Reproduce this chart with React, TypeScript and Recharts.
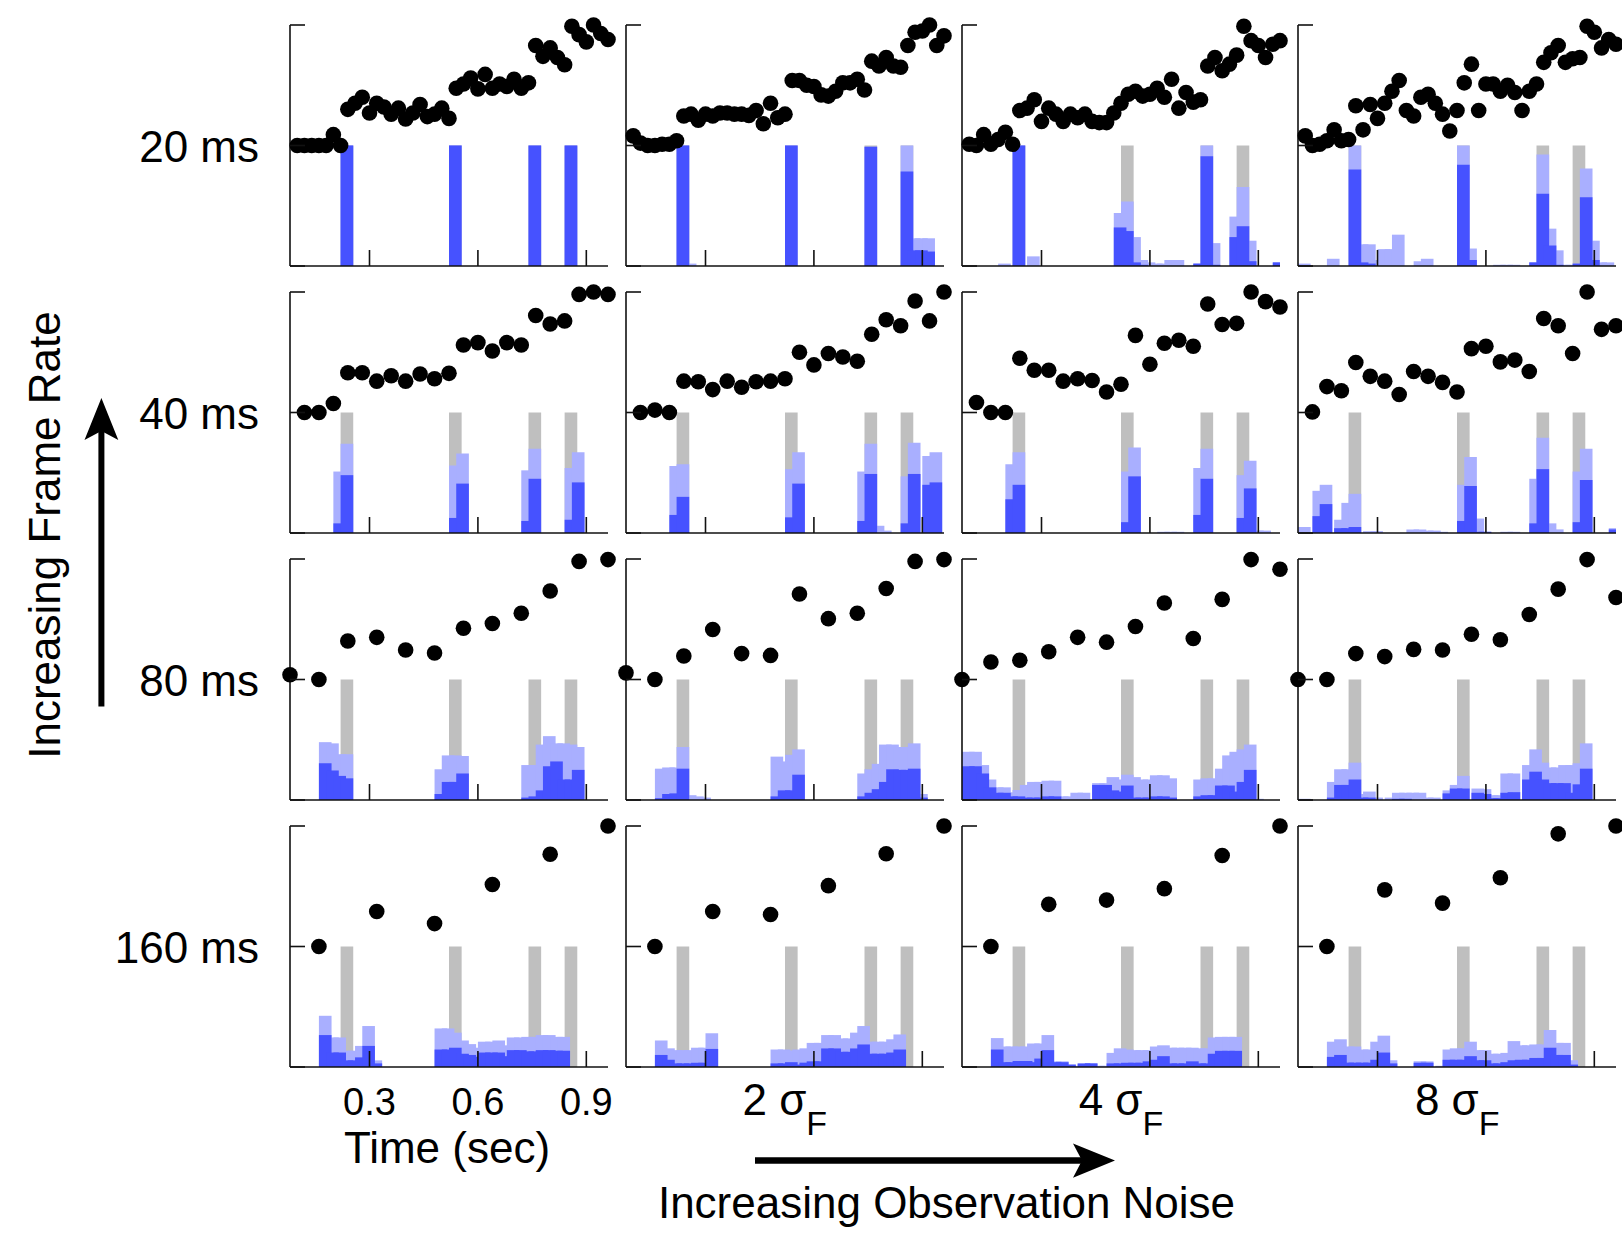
import React from 'react';
import { ComposedChart, XAxis, YAxis, Scatter, ReferenceArea } from 'recharts';

const FONT = '"Liberation Sans", Arial, Helvetica, sans-serif';
const DARK = '#4652ff';
const LIGHT = '#a9afff';
const GRAY = '#bfbfbf';
const INK = '#111';

// frame times (sec) for each frame rate
const t20 = [0.10, 0.12, 0.14, 0.16, 0.18, 0.20, 0.22, 0.24, 0.26, 0.28, 0.30, 0.32, 0.34, 0.36, 0.38, 0.40, 0.42, 0.44, 0.46, 0.48, 0.50, 0.52, 0.54, 0.56, 0.58, 0.60, 0.62, 0.64, 0.66, 0.68, 0.70, 0.72, 0.74, 0.76, 0.78, 0.80, 0.82, 0.84, 0.86, 0.88, 0.90, 0.92, 0.94, 0.96];
const t40 = [0.12, 0.16, 0.20, 0.24, 0.28, 0.32, 0.36, 0.40, 0.44, 0.48, 0.52, 0.56, 0.60, 0.64, 0.68, 0.72, 0.76, 0.80, 0.84, 0.88, 0.92, 0.96];
const t80 = [0.08, 0.16, 0.24, 0.32, 0.40, 0.48, 0.56, 0.64, 0.72, 0.80, 0.88, 0.96];
const t160 = [0.16, 0.32, 0.48, 0.64, 0.80, 0.96];

// observations (0 = middle tick, 1 = top of panel)
const obs20_1 = [0, 0, 0, 0, 0, 0.09, 0, 0.30, 0.35, 0.40, 0.27, 0.35, 0.32, 0.26, 0.31, 0.22, 0.27, 0.34, 0.24, 0.26, 0.31, 0.225, 0.475, 0.51, 0.56, 0.47, 0.59, 0.475, 0.51, 0.49, 0.55, 0.475, 0.52, 0.83, 0.74, 0.81, 0.73, 0.67, 0.99, 0.92, 0.86, 1.0, 0.93, 0.88];
const obs20_2 = [0.08, 0.02, 0, 0, 0.01, 0.01, 0.04, 0.245, 0.26, 0.21, 0.26, 0.245, 0.27, 0.27, 0.26, 0.26, 0.25, 0.29, 0.18, 0.35, 0.23, 0.26, 0.54, 0.54, 0.50, 0.49, 0.42, 0.41, 0.45, 0.52, 0.52, 0.55, 0.46, 0.70, 0.66, 0.73, 0.66, 0.65, 0.83, 0.94, 0.95, 1.0, 0.83, 0.91];
const obs20_4 = [0.01, 0, 0.09, 0.01, 0.05, 0.11, 0.01, 0.29, 0.31, 0.38, 0.20, 0.31, 0.26, 0.20, 0.26, 0.23, 0.26, 0.20, 0.19, 0.19, 0.27, 0.35, 0.425, 0.45, 0.41, 0.425, 0.475, 0.40, 0.55, 0.31, 0.44, 0.36, 0.38, 0.66, 0.73, 0.62, 0.675, 0.75, 0.99, 0.87, 0.83, 0.73, 0.84, 0.87];
const obs20_8 = [0.08, 0, 0.01, 0.04, 0.13, 0.04, 0.05, 0.33, 0.13, 0.34, 0.225, 0.35, 0.45, 0.54, 0.29, 0.245, 0.40, 0.425, 0.35, 0.26, 0.12, 0.29, 0.52, 0.675, 0.29, 0.51, 0.51, 0.45, 0.50, 0.44, 0.29, 0.45, 0.51, 0.69, 0.77, 0.83, 0.69, 0.72, 0.73, 0.99, 0.94, 0.81, 0.88, 0.84];

const obs40_1 = [0, 0, 0.075, 0.33, 0.33, 0.26, 0.305, 0.26, 0.32, 0.28, 0.325, 0.56, 0.58, 0.51, 0.58, 0.56, 0.805, 0.735, 0.76, 0.98, 1.0, 0.98];
const obs40_2 = [0, 0.02, 0, 0.26, 0.255, 0.19, 0.26, 0.21, 0.255, 0.26, 0.28, 0.50, 0.395, 0.49, 0.46, 0.425, 0.65, 0.77, 0.72, 0.925, 0.76, 1.0];
const obs40_4 = [0.083, 0, 0, 0.45, 0.35, 0.35, 0.26, 0.28, 0.265, 0.17, 0.235, 0.64, 0.40, 0.575, 0.60, 0.55, 0.90, 0.73, 0.74, 1.0, 0.92, 0.875];
const obs40_8 = [0.005, 0.215, 0.18, 0.415, 0.30, 0.26, 0.15, 0.34, 0.30, 0.25, 0.17, 0.53, 0.55, 0.42, 0.435, 0.34, 0.78, 0.72, 0.49, 1.0, 0.69, 0.72];

const obs80_1 = [0.04, 0, 0.32, 0.35, 0.245, 0.22, 0.425, 0.465, 0.55, 0.735, 0.98, 0.995];
const obs80_2 = [0.055, 0, 0.195, 0.415, 0.215, 0.20, 0.71, 0.505, 0.55, 0.755, 0.98, 0.995];
const obs80_4 = [0, 0.145, 0.16, 0.23, 0.35, 0.31, 0.44, 0.635, 0.34, 0.665, 0.995, 0.915];
const obs80_8 = [0, 0, 0.215, 0.19, 0.25, 0.245, 0.375, 0.33, 0.54, 0.75, 0.995, 0.68];

const obs160_1 = [0, 0.29, 0.19, 0.515, 0.765, 1.0];
const obs160_2 = [0, 0.29, 0.265, 0.505, 0.77, 1.0];
const obs160_4 = [0, 0.35, 0.385, 0.48, 0.755, 1.0];
const obs160_8 = [0, 0.47, 0.36, 0.57, 0.935, 1.0];

// change-point histograms: [bin start (sec), light, dark], 1 = middle tick
type Bin = [number, number, number];
const hist20_1: Bin[] = [[0.22, 1, 1], [0.52, 1, 1], [0.74, 1, 1], [0.84, 1, 1]];
const hist20_2: Bin[] = [[0.22, 1, 1], [0.24, 0.02, 0], [0.52, 1, 1], [0.74, 0.99, 0.99], [0.84, 1, 0.785], [0.86, 0.23, 0.13], [0.88, 0.23, 0.13], [0.90, 0.23, 0.12]];
const hist20_4: Bin[] = [[0.18, 0.02, 0], [0.22, 1, 1], [0.26, 0.08, 0], [0.50, 0.44, 0.32], [0.52, 0.535, 0.29], [0.54, 0.24, 0.03], [0.56, 0.05, 0.01], [0.58, 0.03, 0], [0.60, 0.02, 0], [0.62, 0.02, 0], [0.64, 0.05, 0], [0.66, 0.05, 0], [0.72, 0.02, 0.02], [0.74, 1, 0.91], [0.76, 0.19, 0.01], [0.82, 0.41, 0.24], [0.84, 0.655, 0.33], [0.86, 0.21, 0.04], [0.94, 0.03, 0.03]];
const hist20_8: Bin[] = [[0.08, 0.02, 0], [0.16, 0.06, 0], [0.22, 1, 0.8], [0.24, 0.18, 0.03], [0.26, 0.18, 0.02], [0.28, 0.05, 0], [0.30, 0.14, 0], [0.32, 0.14, 0], [0.34, 0.26, 0], [0.40, 0.04, 0], [0.42, 0.06, 0], [0.52, 1, 0.84], [0.54, 0.145, 0.05], [0.62, 0.01, 0], [0.64, 0.01, 0], [0.66, 0.01, 0], [0.72, 0.03, 0.03], [0.74, 0.925, 0.6], [0.76, 0.31, 0.17], [0.78, 0.13, 0.01], [0.80, 0.01, 0], [0.82, 0.01, 0], [0.84, 0.02, 0.02], [0.86, 0.81, 0.57], [0.88, 0.21, 0.05], [0.90, 0.03, 0], [0.92, 0.03, 0]];

const hist40_1: Bin[] = [[0.20, 0.51, 0.08], [0.22, 0.74, 0.48], [0.52, 0.56, 0.125], [0.54, 0.66, 0.41], [0.72, 0.52, 0.10], [0.74, 0.70, 0.45], [0.84, 0.54, 0.11], [0.86, 0.67, 0.42]];
const hist40_2: Bin[] = [[0.20, 0.555, 0.15], [0.22, 0.57, 0.30], [0.52, 0.53, 0.13], [0.54, 0.67, 0.41], [0.72, 0.51, 0.10], [0.74, 0.74, 0.49], [0.76, 0.06, 0], [0.78, 0.02, 0], [0.84, 0.47, 0.08], [0.86, 0.75, 0.49], [0.90, 0.64, 0.40], [0.92, 0.67, 0.42]];
const hist40_4: Bin[] = [[0.20, 0.57, 0.28], [0.22, 0.67, 0.40], [0.52, 0.51, 0.09], [0.54, 0.71, 0.47], [0.62, 0.01, 0], [0.64, 0.01, 0], [0.66, 0.01, 0], [0.72, 0.54, 0.15], [0.74, 0.70, 0.45], [0.84, 0.48, 0.125], [0.86, 0.60, 0.37], [0.88, 0.02, 0], [0.90, 0.02, 0]];
const hist40_8: Bin[] = [[0.08, 0.05, 0], [0.12, 0.35, 0.14], [0.14, 0.40, 0.24], [0.18, 0.11, 0.04], [0.20, 0.25, 0.04], [0.22, 0.325, 0.05], [0.26, 0.015, 0], [0.28, 0.015, 0], [0.38, 0.03, 0], [0.40, 0.03, 0], [0.42, 0.02, 0], [0.44, 0.02, 0], [0.46, 0.01, 0], [0.52, 0.40, 0.10], [0.54, 0.63, 0.39], [0.56, 0.12, 0.01], [0.58, 0.01, 0.01], [0.64, 0.01, 0], [0.66, 0.01, 0], [0.72, 0.45, 0.08], [0.74, 0.79, 0.53], [0.76, 0.08, 0], [0.78, 0.03, 0], [0.84, 0.51, 0.09], [0.86, 0.70, 0.44], [0.94, 0.04, 0.03]];

const hist80_1: Bin[] = [[0.16, 0.48, 0.305], [0.18, 0.47, 0.245], [0.20, 0.38, 0.20], [0.22, 0.38, 0.18], [0.48, 0.255, 0.05], [0.50, 0.37, 0.15], [0.52, 0.37, 0.15], [0.54, 0.365, 0.22], [0.72, 0.29, 0.02], [0.74, 0.29, 0.03], [0.76, 0.46, 0.08], [0.78, 0.53, 0.28], [0.80, 0.47, 0.32], [0.82, 0.47, 0.17], [0.84, 0.46, 0.17], [0.86, 0.44, 0.25]];
const hist80_2: Bin[] = [[0.16, 0.26, 0.015], [0.18, 0.27, 0.05], [0.20, 0.27, 0.055], [0.22, 0.44, 0.26], [0.24, 0.04, 0], [0.26, 0.03, 0], [0.28, 0.02, 0], [0.48, 0.36, 0.03], [0.50, 0.32, 0.08], [0.52, 0.375, 0.08], [0.54, 0.42, 0.21], [0.72, 0.22, 0.03], [0.74, 0.255, 0.06], [0.76, 0.30, 0.09], [0.78, 0.46, 0.15], [0.80, 0.46, 0.255], [0.82, 0.44, 0.25], [0.84, 0.44, 0.25], [0.86, 0.47, 0.26], [0.88, 0.05, 0.02]];
const hist80_4: Bin[] = [[0.08, 0.40, 0.28], [0.10, 0.40, 0.28], [0.12, 0.29, 0.22], [0.14, 0.17, 0.105], [0.16, 0.105, 0.06], [0.18, 0.105, 0.06], [0.20, 0.064, 0.03], [0.22, 0.083, 0.03], [0.24, 0.125, 0.02], [0.26, 0.15, 0.02], [0.28, 0.15, 0.02], [0.30, 0.16, 0.03], [0.32, 0.16, 0.03], [0.34, 0.03, 0], [0.36, 0.03, 0], [0.38, 0.06, 0], [0.40, 0.06, 0], [0.44, 0.14, 0.125], [0.46, 0.14, 0.125], [0.48, 0.19, 0.08], [0.50, 0.17, 0.07], [0.52, 0.21, 0.12], [0.54, 0.19, 0.02], [0.56, 0.17, 0.02], [0.58, 0.17, 0.02], [0.60, 0.205, 0.03], [0.62, 0.205, 0.03], [0.64, 0.18, 0.02], [0.72, 0.17, 0.03], [0.74, 0.18, 0.04], [0.76, 0.18, 0.04], [0.78, 0.26, 0.12], [0.80, 0.37, 0.12], [0.82, 0.40, 0.07], [0.84, 0.42, 0.15], [0.86, 0.46, 0.25], [0.88, 0.01, 0]];
const hist80_8: Bin[] = [[0.08, 0.01, 0], [0.16, 0.15, 0.02], [0.18, 0.255, 0.125], [0.20, 0.255, 0.125], [0.22, 0.31, 0.17], [0.24, 0.05, 0.02], [0.26, 0.07, 0.02], [0.28, 0.02, 0], [0.32, 0.02, 0], [0.34, 0.06, 0.01], [0.36, 0.06, 0.01], [0.38, 0.06, 0], [0.40, 0.06, 0], [0.42, 0.02, 0], [0.44, 0.02, 0], [0.48, 0.08, 0.055], [0.50, 0.125, 0.095], [0.52, 0.20, 0.095], [0.56, 0.095, 0.06], [0.58, 0.09, 0.05], [0.60, 0.04, 0.015], [0.62, 0.04, 0.015], [0.64, 0.22, 0.06], [0.66, 0.22, 0.065], [0.70, 0.29, 0.17], [0.72, 0.42, 0.235], [0.74, 0.31, 0.17], [0.76, 0.27, 0.14], [0.78, 0.27, 0.14], [0.80, 0.29, 0.14], [0.82, 0.29, 0.06], [0.84, 0.305, 0.13], [0.86, 0.47, 0.26]];

const hist160_1: Bin[] = [[0.16, 0.425, 0.265], [0.18, 0.245, 0.12], [0.20, 0.245, 0.12], [0.22, 0.135, 0.055], [0.24, 0.135, 0.055], [0.26, 0.175, 0.08], [0.28, 0.34, 0.175], [0.30, 0.055, 0.03], [0.48, 0.32, 0.145], [0.50, 0.32, 0.145], [0.52, 0.285, 0.16], [0.54, 0.22, 0.11], [0.56, 0.19, 0.10], [0.58, 0.16, 0.085], [0.60, 0.21, 0.12], [0.62, 0.21, 0.12], [0.64, 0.22, 0.12], [0.66, 0.18, 0.09], [0.68, 0.245, 0.14], [0.70, 0.245, 0.14], [0.72, 0.25, 0.13], [0.74, 0.25, 0.13], [0.76, 0.265, 0.14], [0.78, 0.265, 0.14], [0.80, 0.25, 0.135], [0.82, 0.25, 0.135]];
const hist160_2: Bin[] = [[0.16, 0.22, 0.10], [0.18, 0.155, 0.06], [0.20, 0.14, 0.03], [0.22, 0.14, 0.03], [0.24, 0.14, 0.03], [0.26, 0.16, 0.035], [0.28, 0.16, 0.035], [0.30, 0.28, 0.15], [0.48, 0.145, 0.03], [0.50, 0.145, 0.03], [0.52, 0.137, 0.04], [0.54, 0.145, 0.02], [0.56, 0.155, 0.036], [0.58, 0.20, 0.047], [0.60, 0.20, 0.047], [0.62, 0.265, 0.154], [0.64, 0.265, 0.154], [0.66, 0.237, 0.126], [0.68, 0.237, 0.126], [0.70, 0.285, 0.154], [0.72, 0.34, 0.187], [0.74, 0.21, 0.11], [0.76, 0.21, 0.11], [0.78, 0.21, 0.11], [0.80, 0.23, 0.12], [0.82, 0.27, 0.145]];
const hist160_4: Bin[] = [[0.16, 0.24, 0.145], [0.18, 0.17, 0.04], [0.20, 0.17, 0.04], [0.22, 0.17, 0.05], [0.24, 0.17, 0.05], [0.26, 0.195, 0.04], [0.28, 0.195, 0.07], [0.30, 0.265, 0.14], [0.32, 0.047, 0.04], [0.34, 0.047, 0.04], [0.36, 0.02, 0.02], [0.38, 0.01, 0], [0.40, 0.03, 0.03], [0.42, 0.03, 0.03], [0.44, 0.01, 0], [0.46, 0.01, 0], [0.48, 0.117, 0.03], [0.50, 0.155, 0.03], [0.52, 0.145, 0.035], [0.54, 0.14, 0.035], [0.56, 0.14, 0.035], [0.58, 0.14, 0.047], [0.60, 0.17, 0.06], [0.62, 0.18, 0.09], [0.64, 0.16, 0.03], [0.66, 0.16, 0.03], [0.68, 0.16, 0.03], [0.70, 0.16, 0.047], [0.72, 0.155, 0.03], [0.74, 0.155, 0.03], [0.76, 0.245, 0.11], [0.78, 0.25, 0.134], [0.80, 0.25, 0.134], [0.82, 0.25, 0.134]];
const hist160_8: Bin[] = [[0.16, 0.21, 0.084], [0.18, 0.23, 0.10], [0.20, 0.17, 0.036], [0.22, 0.17, 0.036], [0.24, 0.145, 0.036], [0.26, 0.145, 0.036], [0.28, 0.21, 0.06], [0.30, 0.26, 0.12], [0.32, 0.056, 0.03], [0.40, 0.047, 0.036], [0.42, 0.047, 0.036], [0.46, 0.01, 0], [0.48, 0.145, 0.06], [0.50, 0.155, 0.06], [0.52, 0.155, 0.06], [0.54, 0.21, 0.09], [0.56, 0.14, 0.056], [0.58, 0.14, 0.056], [0.60, 0.11, 0.03], [0.62, 0.11, 0.03], [0.64, 0.117, 0.04], [0.66, 0.215, 0.056], [0.68, 0.18, 0.06], [0.70, 0.18, 0.06], [0.72, 0.187, 0.075], [0.74, 0.187, 0.075], [0.76, 0.307, 0.16], [0.78, 0.20, 0.10], [0.80, 0.20, 0.10], [0.82, 0.056, 0.02]];

// true change points (bin starts)
const changeBins = [0.22, 0.52, 0.74, 0.84];

const rowLabels = ['20 ms', '40 ms', '80 ms', '160 ms'];
const noiseLabels = ['', '2', '4', '8'];
const timeTicks = [0.3, 0.6, 0.9];

const rows = [
  { times: t20, obs: [obs20_1, obs20_2, obs20_4, obs20_8], hist: [hist20_1, hist20_2, hist20_4, hist20_8] },
  { times: t40, obs: [obs40_1, obs40_2, obs40_4, obs40_8], hist: [hist40_1, hist40_2, hist40_4, hist40_8] },
  { times: t80, obs: [obs80_1, obs80_2, obs80_4, obs80_8], hist: [hist80_1, hist80_2, hist80_4, hist80_8] },
  { times: t160, obs: [obs160_1, obs160_2, obs160_4, obs160_8], hist: [hist160_1, hist160_2, hist160_4, hist160_8] },
];

const T_MIN = 0.08;
const T_MAX = 0.96;
const BAR_W = 0.035;
// one axis: the histogram lives in [-1, 0], the observations in [0, 1]
const HIST_BASE = -1;

// layout (px)
const COL_X = [289.6, 625.8, 962, 1298.2];
const ROW_Y = [24.8, 291.7, 558.6, 825.5];
const PLOT_W = 318;
const PLOT_H = 241;
const PAD_L = 10;
const PAD_T = 10;
const PAD_R = 12;
const AXIS_H = 60;

const axisStroke = { stroke: INK, strokeWidth: 1.6 };

const dotShape = (p: any) => <circle cx={p.cx} cy={p.cy} r={7.8} fill="#000" />;

const yTick = (p: any) => (
  <line x1={p.x} y1={p.y} x2={p.x + 15} y2={p.y} stroke={INK} strokeWidth={1.6} />
);

const makeXTick = (showTime: boolean) => (p: any) => (
  <g>
    <line x1={p.x} y1={p.y} x2={p.x} y2={p.y - 16} stroke={INK} strokeWidth={1.6} />
    {showTime && (
      <text x={p.x} y={p.y + 47.5} textAnchor="middle" fontSize={38} fontFamily={FONT} fill="#000">
        {Number(p.payload.value).toFixed(1)}
      </text>
    )}
  </g>
);

function Panel({ x, y, times, obs, hist, showTime }: { x: number; y: number; times: number[]; obs: number[]; hist: Bin[]; showTime: boolean }) {
  const pts = times.map((t, i) => ({ t, v: obs[i] }));
  const end = (t: number) => Math.min(t + BAR_W, T_MAX);
  return (
    <div style={{ position: 'absolute', left: x - PAD_L, top: y - PAD_T }}>
      <ComposedChart
        width={PAD_L + PLOT_W + PAD_R}
        height={PAD_T + PLOT_H + AXIS_H}
        margin={{ top: PAD_T, right: PAD_R, bottom: 0, left: 0 }}
      >
        <XAxis
          type="number"
          dataKey="t"
          domain={[T_MIN, T_MAX]}
          ticks={timeTicks}
          interval={0}
          height={AXIS_H}
          tickSize={0}
          tickMargin={0}
          tick={makeXTick(showTime)}
          tickLine={false}
          axisLine={axisStroke}
        />
        <YAxis
          type="number"
          dataKey="v"
          domain={[-1, 1]}
          ticks={[-1, 0, 1]}
          interval={0}
          width={PAD_L}
          tickSize={0}
          tickMargin={0}
          tick={yTick}
          tickLine={false}
          axisLine={axisStroke}
        />
        {changeBins.map((t) => (
          <ReferenceArea key={'g' + t} x1={t} x2={end(t)} y1={HIST_BASE} y2={HIST_BASE + 1} fill={GRAY} fillOpacity={1} stroke="none" ifOverflow="visible" />
        ))}
        {hist.map(([t, l]) => (
          <ReferenceArea key={'l' + t} x1={t} x2={end(t)} y1={HIST_BASE} y2={HIST_BASE + l} fill={LIGHT} fillOpacity={1} stroke="none" ifOverflow="visible" />
        ))}
        {hist.filter((b) => b[2] > 0).map(([t, , d]) => (
          <ReferenceArea key={'d' + t} x1={t} x2={end(t)} y1={HIST_BASE} y2={HIST_BASE + d} fill={DARK} fillOpacity={1} stroke="none" ifOverflow="visible" />
        ))}
        <Scatter data={pts} dataKey="v" fill="#000" isAnimationActive={false} shape={dotShape} />
      </ComposedChart>
    </div>
  );
}

export default function App() {
  return (
    <div style={{ position: 'absolute', left: 0, top: 0, width: 1622, height: 1238, background: '#fff', overflow: 'hidden' }}>
      {rows.map((r, ri) =>
        COL_X.map((cx, ci) => (
          <Panel
            key={ri + '-' + ci}
            x={cx}
            y={ROW_Y[ri]}
            times={r.times}
            obs={r.obs[ci]}
            hist={r.hist[ci]}
            showTime={ri === 3 && ci === 0}
          />
        ))
      )}
      <svg width={1622} height={1238} style={{ position: 'absolute', left: 0, top: 0, pointerEvents: 'none' }} fontFamily={FONT}>
        {rowLabels.map((lab, i) => (
          <text key={lab} x={259} y={ROW_Y[i] + PLOT_H / 2 + 17} textAnchor="end" fontSize={44} fill="#000">{lab}</text>
        ))}
        <text transform="translate(60 535) rotate(-90)" textAnchor="middle" fontSize={44} fill="#000">Increasing Frame Rate</text>
        <line x1={101.4} y1={706.5} x2={101.4} y2={428} stroke="#000" strokeWidth={6} />
        <polygon points="101.4,398 84.5,440 101.4,431 118.3,440" fill="#000" />

        {noiseLabels.map((n, i) =>
          n ? (
            <text key={n} x={COL_X[i] + PLOT_W / 2} y={1115} textAnchor="middle" fontSize={44} fill="#000">
              {n + ' σ'}
              <tspan fontSize={34} dy={20}>F</tspan>
            </text>
          ) : null
        )}
        <text x={447} y={1163} textAnchor="middle" fontSize={44} fill="#000">Time (sec)</text>
        <line x1={755} y1={1160.6} x2={1084} y2={1160.6} stroke="#000" strokeWidth={6.5} />
        <polygon points="1115,1160.6 1073,1143.5 1082,1160.6 1073,1177.7" fill="#000" />
        <text x={946.5} y={1217.5} textAnchor="middle" fontSize={44} fill="#000">Increasing Observation Noise</text>
      </svg>
    </div>
  );
}
